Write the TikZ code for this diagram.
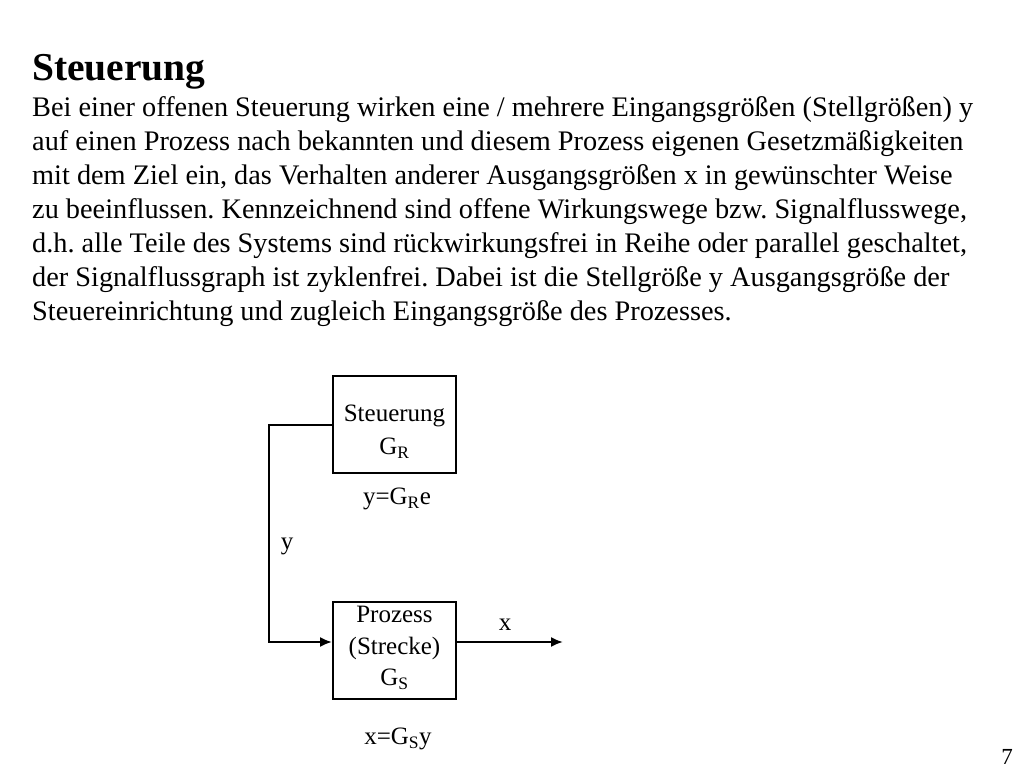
\documentclass[tikz,border=0pt]{standalone}
\usepackage{fontspec}
\setmainfont{Liberation Serif}
\usetikzlibrary{arrows.meta}
\frenchspacing

\begin{document}
\begin{tikzpicture}[x=1pt,y=-1pt,
  block/.style={draw, line width=2pt, minimum width=123pt, minimum height=97pt, inner sep=0pt},
  lbl/.style={inner sep=0pt, align=center, font=\fontsize{25}{31.5}\selectfont},
  flow/.style={line width=2pt, -{Latex[length=12pt,width=10pt]}}]

\useasboundingbox (0,0) rectangle (1024,768);

\node[anchor=base west, inner sep=0pt, font=\fontsize{39.5}{39.5}\selectfont\bfseries] (title) at (32,81) {Steuerung};
\node[anchor=base west, inner sep=0pt, align=left, font=\fontsize{28.3}{34}\selectfont] (text) at (32,320)
  {Bei einer offenen Steuerung wirken eine / mehrere Eingangsgrößen (Stellgrößen) y\\
   auf einen Prozess nach bekannten und diesem Prozess eigenen Gesetzmäßigkeiten\\
   mit dem Ziel ein, das Verhalten anderer Ausgangsgrößen x in gewünschter Weise\\
   zu beeinflussen. Kennzeichnend sind offene Wirkungswege bzw. Signalflusswege,\\
   d.h. alle Teile des Systems sind rückwirkungsfrei in Reihe oder parallel geschaltet,\\
   der Signalflussgraph ist zyklenfrei. Dabei ist die Stellgröße y Ausgangsgröße der\\
   Steuereinrichtung und zugleich Eingangsgröße des Prozesses.};

% Bloecke
\node[block] (steu) at (394.5,424.5) {};
\node[lbl] (steutxt) at ([yshift=-7pt]steu.center) {Steuerung\\[2pt]G\textsubscript{R}};
\node[block] (proz) at (394.5,650) {};
\node[lbl] (proztxt) at ([yshift=2pt]proz.center) {Prozess\\(Strecke)\\G\textsubscript{S}};

\node[lbl] (gr) at (397,499) {y=G\textsubscript{R}e};
\node[lbl] (gs) at (398,739) {x=G\textsubscript{S}y};

\draw[flow] (steu.west) -- ++(-63,0) coordinate (knick) |- ([yshift=8pt]proz.west);
\node[lbl] (y) at (287,546) {y};

\coordinate (aus) at (563,642);
\draw[flow] (proz.east |- aus) -- (aus);
\node[lbl] (x) at (505,625) {x};

\node[inner sep=0pt, font=\fontsize{23}{23}\selectfont] (seite) at (1007,757) {7};

\end{tikzpicture}
\end{document}
